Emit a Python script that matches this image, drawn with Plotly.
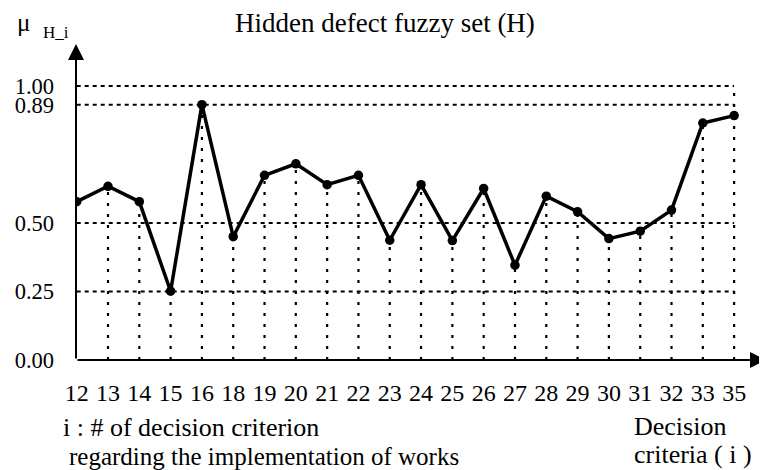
import plotly.graph_objects as go

# ---- data ----
criteria = ["12", "13", "14", "15", "16", "18", "19", "20", "21", "22", "23",
            "24", "25", "26", "27", "28", "29", "30", "31", "32", "33", "35"]
membership = [0.578, 0.634, 0.578, 0.251, 0.932, 0.450, 0.674, 0.716, 0.640, 0.674, 0.437,
              0.640, 0.436, 0.626, 0.346, 0.598, 0.541, 0.443, 0.470, 0.547, 0.865, 0.892]

# reference levels (gridline heights as drawn) and their labels
level_vals = [0.0, 0.25, 0.50, 0.932, 1.00]
level_text = ["0.00", "0.25", "0.50", "0.89", "1.00"]

FONT = "Liberation Serif"
OFF = 8                      # page body margin of the html page
W, H = 767 - OFF, 470 - OFF
ML, MR, MT, MB = 76 - OFF, 0, 40 - OFF, 110

fig = go.Figure()

# horizontal dashed reference lines
hx, hy = [], []
for v in level_vals[1:]:
    hx += [criteria[0], criteria[-1], None]
    hy += [v, v, None]
fig.add_trace(go.Scatter(x=hx, y=hy, mode="lines", hoverinfo="skip",
                         line=dict(color="black", width=2, dash="4px,4px")))

# vertical dotted drop lines
vx, vy = [], []
for i, (c, v) in enumerate(zip(criteria, membership)):
    if i == 0:
        continue
    top = max(level_vals) if i == len(criteria) - 1 else v
    vx += [c, c, None]
    vy += [0, top, None]
fig.add_trace(go.Scatter(x=vx, y=vy, mode="lines", hoverinfo="skip",
                         line=dict(color="black", width=2.2, dash="3px,8px")))

# main series
fig.add_trace(go.Scatter(x=criteria, y=membership, mode="lines+markers",
                         line=dict(color="black", width=3.5),
                         marker=dict(color="black", size=9.5)))

plot_h = H - MT - MB
plot_w = W - ML - MR


def py(pix):
    return (H - MB - (pix - OFF)) / plot_h


def px(pix):
    return (pix - OFF - ML) / plot_w


annotations = [
    # axis arrows
    dict(x=0, y=py(44), xref="paper", yref="paper", ax=0, ay=360 - 44,
         showarrow=True, arrowhead=2, arrowsize=1.6, arrowwidth=2, arrowcolor="black", text=""),
    dict(x=px(766), y=0, xref="paper", yref="paper", ax=-(766 - 76), ay=0,
         showarrow=True, arrowhead=2, arrowsize=1.6, arrowwidth=2, arrowcolor="black", text=""),
    # title
    dict(x=px(385), y=py(23), xref="paper", yref="paper", showarrow=False,
         text="Hidden defect fuzzy set (H)", font=dict(family=FONT, size=27, color="black"),
         xanchor="center", yanchor="middle"),
    # y label
    dict(x=px(15), y=py(23), xref="paper", yref="paper", showarrow=False,
         text="μ", font=dict(family=FONT, size=25, color="black"), xanchor="left", yanchor="middle"),
    dict(x=px(41), y=py(32), xref="paper", yref="paper", showarrow=False,
         text="H_i", font=dict(family=FONT, size=17, color="black"), xanchor="left", yanchor="middle"),
    # bottom notes
    dict(x=px(61), y=py(427), xref="paper", yref="paper", showarrow=False,
         text="i : # of decision criterion", font=dict(family=FONT, size=26, color="black"),
         xanchor="left", yanchor="middle"),
    dict(x=px(67), y=py(456), xref="paper", yref="paper", showarrow=False,
         text="regarding the implementation of works", font=dict(family=FONT, size=25, color="black"),
         xanchor="left", yanchor="middle"),
    dict(x=px(632), y=py(426), xref="paper", yref="paper", showarrow=False,
         text="Decision", font=dict(family=FONT, size=26, color="black"),
         xanchor="left", yanchor="middle"),
    dict(x=px(632), y=py(454), xref="paper", yref="paper", showarrow=False,
         text="criteria ( i )", font=dict(family=FONT, size=26, color="black"),
         xanchor="left", yanchor="middle"),
]

fig.update_layout(
    width=W, height=H,
    margin=dict(l=ML, r=MR, t=MT, b=MB),
    paper_bgcolor="white", plot_bgcolor="white",
    showlegend=False,
    annotations=annotations,
    xaxis=dict(type="category", categoryorder="array", categoryarray=criteria,
               range=[-0.022, 22.05], showgrid=False, zeroline=False,
               showline=False, ticks="", ticklabelstandoff=16,
               tickfont=dict(family=FONT, size=24, color="black")),
    yaxis=dict(range=[0, plot_h / 274.0], showgrid=False, zeroline=False, showline=False,
               ticks="", tickvals=level_vals, ticktext=level_text, ticklabelstandoff=21,
               tickfont=dict(family=FONT, size=22.5, color="black")),
)

fig.write_html("out.html")
